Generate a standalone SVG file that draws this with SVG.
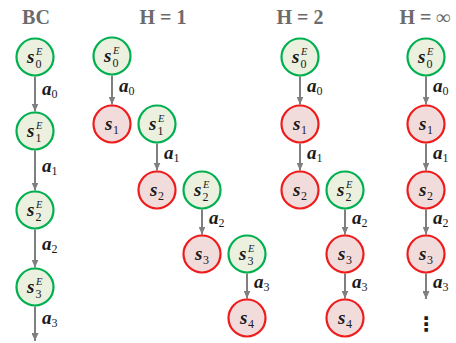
<svg xmlns="http://www.w3.org/2000/svg" width="456" height="343" viewBox="0 0 456 343">
<defs>
<marker id="ah" markerUnits="userSpaceOnUse" markerWidth="8" markerHeight="7" refX="8" refY="3.5" orient="auto">
<path d="M0,0 L8,3.5 L0,7 z" fill="#7f7f7f"/>
</marker>
<style>
.g circle{fill:#ebf1de;stroke:#00b050;stroke-width:2.2}
.r circle{fill:#f2dcdb;stroke:#ee1c1c;stroke-width:2.2}
text{font-family:'Liberation Serif','Times New Roman','DejaVu Serif',serif}
.s{font-weight:bold;font-style:italic;font-size:19px;fill:#1a1a1a}
.sub{font-weight:normal;font-style:normal;font-size:12px;fill:#1a1a1a}
.sup{font-weight:normal;font-style:italic;font-size:10.5px;fill:#1a1a1a}
.e{stroke:#7f7f7f;stroke-width:2;fill:none;marker-end:url(#ah)}
.t{font-weight:bold;font-size:20px;fill:#6b6b6b;text-anchor:middle}
.dots{font-family:'DejaVu Sans',sans-serif;font-weight:bold;font-size:20px;fill:#1a1a1a;text-anchor:middle}
</style>
</defs>
<rect width="456" height="343" fill="#ffffff"/>
<g id="titles">
<text class="t" x="36" y="24">BC</text>
<text class="t" x="163" y="24">H = 1</text>
<text class="t" x="300" y="24">H = 2</text>
<text class="t" x="425" y="24">H = ∞</text>
</g>
<g id="connectors">
<line class="e" x1="35" y1="76.5" x2="35" y2="111.5"/>
<line class="e" x1="35" y1="150.5" x2="35" y2="190.5"/>
<line class="e" x1="35" y1="229.5" x2="35" y2="267.5"/>
<line class="e" x1="35" y1="306.5" x2="35" y2="341"/>
<line class="e" x1="112" y1="75.5" x2="112" y2="104.5"/>
<line class="e" x1="157" y1="143.5" x2="157" y2="170.5"/>
<line class="e" x1="202" y1="209.5" x2="202" y2="234.5"/>
<line class="e" x1="247" y1="273.5" x2="247" y2="298.5"/>
<line class="e" x1="300" y1="76.5" x2="300" y2="104.5"/>
<line class="e" x1="300" y1="143.5" x2="300" y2="170.5"/>
<line class="e" x1="345" y1="209.5" x2="345" y2="234.5"/>
<line class="e" x1="345" y1="273.5" x2="345" y2="298.5"/>
<line class="e" x1="426" y1="76.5" x2="426" y2="104.5"/>
<line class="e" x1="426" y1="143.5" x2="426" y2="170.5"/>
<line class="e" x1="426" y1="209.5" x2="426" y2="234.5"/>
<line class="e" x1="426" y1="273.5" x2="426" y2="299"/>
<text class="s" x="42" y="95">a<tspan class="sub" dy="3">0</tspan></text>
<text class="s" x="42" y="172">a<tspan class="sub" dy="3">1</tspan></text>
<text class="s" x="42" y="250">a<tspan class="sub" dy="3">2</tspan></text>
<text class="s" x="42" y="324">a<tspan class="sub" dy="3">3</tspan></text>
<text class="s" x="119" y="92">a<tspan class="sub" dy="3">0</tspan></text>
<text class="s" x="164" y="159">a<tspan class="sub" dy="3">1</tspan></text>
<text class="s" x="209" y="224">a<tspan class="sub" dy="3">2</tspan></text>
<text class="s" x="254" y="288">a<tspan class="sub" dy="3">3</tspan></text>
<text class="s" x="307" y="92">a<tspan class="sub" dy="3">0</tspan></text>
<text class="s" x="307" y="159">a<tspan class="sub" dy="3">1</tspan></text>
<text class="s" x="352" y="224">a<tspan class="sub" dy="3">2</tspan></text>
<text class="s" x="352" y="288">a<tspan class="sub" dy="3">3</tspan></text>
<text class="s" x="433" y="92">a<tspan class="sub" dy="3">0</tspan></text>
<text class="s" x="433" y="159">a<tspan class="sub" dy="3">1</tspan></text>
<text class="s" x="433" y="224">a<tspan class="sub" dy="3">2</tspan></text>
<text class="s" x="433" y="288">a<tspan class="sub" dy="3">3</tspan></text>
</g>
<g id="bc-s0E" class="g" transform="translate(35,57)"><circle r="18.5"/><text class="s" x="-8" y="6">s</text><text class="sub" x="0.5" y="11">0</text><text class="sup" x="1" y="-2.5">E</text></g>
<g id="bc-s1E" class="g" transform="translate(35,131)"><circle r="18.5"/><text class="s" x="-8" y="6">s</text><text class="sub" x="0.5" y="11">1</text><text class="sup" x="1" y="-2.5">E</text></g>
<g id="bc-s2E" class="g" transform="translate(35,210)"><circle r="18.5"/><text class="s" x="-8" y="6">s</text><text class="sub" x="0.5" y="11">2</text><text class="sup" x="1" y="-2.5">E</text></g>
<g id="bc-s3E" class="g" transform="translate(35,287)"><circle r="18.5"/><text class="s" x="-8" y="6">s</text><text class="sub" x="0.5" y="11">3</text><text class="sup" x="1" y="-2.5">E</text></g>

<g id="h1-s0E" class="g" transform="translate(112,56)"><circle r="18.5"/><text class="s" x="-8" y="6">s</text><text class="sub" x="0.5" y="11">0</text><text class="sup" x="1" y="-2.5">E</text></g>
<g id="h1-s1" class="r" transform="translate(112,124)"><circle r="18.5"/><text class="s" x="-7" y="6">s</text><text class="sub" x="1" y="10">1</text></g>
<g id="h1-s1E" class="g" transform="translate(157,124)"><circle r="18.5"/><text class="s" x="-8" y="6">s</text><text class="sub" x="0.5" y="11">1</text><text class="sup" x="1" y="-2.5">E</text></g>
<g id="h1-s2" class="r" transform="translate(157,190)"><circle r="18.5"/><text class="s" x="-7" y="6">s</text><text class="sub" x="1" y="10">2</text></g>
<g id="h1-s2E" class="g" transform="translate(202,190)"><circle r="18.5"/><text class="s" x="-8" y="6">s</text><text class="sub" x="0.5" y="11">2</text><text class="sup" x="1" y="-2.5">E</text></g>
<g id="h1-s3" class="r" transform="translate(202,254)"><circle r="18.5"/><text class="s" x="-7" y="6">s</text><text class="sub" x="1" y="10">3</text></g>
<g id="h1-s3E" class="g" transform="translate(247,254)"><circle r="18.5"/><text class="s" x="-8" y="6">s</text><text class="sub" x="0.5" y="11">3</text><text class="sup" x="1" y="-2.5">E</text></g>
<g id="h1-s4" class="r" transform="translate(247,318)"><circle r="18.5"/><text class="s" x="-7" y="6">s</text><text class="sub" x="1" y="10">4</text></g>

<g id="h2-s0E" class="g" transform="translate(300,57)"><circle r="18.5"/><text class="s" x="-8" y="6">s</text><text class="sub" x="0.5" y="11">0</text><text class="sup" x="1" y="-2.5">E</text></g>
<g id="h2-s1" class="r" transform="translate(300,124)"><circle r="18.5"/><text class="s" x="-7" y="6">s</text><text class="sub" x="1" y="10">1</text></g>
<g id="h2-s2" class="r" transform="translate(300,190)"><circle r="18.5"/><text class="s" x="-7" y="6">s</text><text class="sub" x="1" y="10">2</text></g>
<g id="h2-s2E" class="g" transform="translate(345,190)"><circle r="18.5"/><text class="s" x="-8" y="6">s</text><text class="sub" x="0.5" y="11">2</text><text class="sup" x="1" y="-2.5">E</text></g>
<g id="h2-s3" class="r" transform="translate(345,254)"><circle r="18.5"/><text class="s" x="-7" y="6">s</text><text class="sub" x="1" y="10">3</text></g>
<g id="h2-s4" class="r" transform="translate(345,318)"><circle r="18.5"/><text class="s" x="-7" y="6">s</text><text class="sub" x="1" y="10">4</text></g>

<g id="hinf-s0E" class="g" transform="translate(426,57)"><circle r="18.5"/><text class="s" x="-8" y="6">s</text><text class="sub" x="0.5" y="11">0</text><text class="sup" x="1" y="-2.5">E</text></g>
<g id="hinf-s1" class="r" transform="translate(426,124)"><circle r="18.5"/><text class="s" x="-7" y="6">s</text><text class="sub" x="1" y="10">1</text></g>
<g id="hinf-s2" class="r" transform="translate(426,190)"><circle r="18.5"/><text class="s" x="-7" y="6">s</text><text class="sub" x="1" y="10">2</text></g>
<g id="hinf-s3" class="r" transform="translate(426,254)"><circle r="18.5"/><text class="s" x="-7" y="6">s</text><text class="sub" x="1" y="10">3</text></g>
<g id="hinf-dots"><text class="dots" x="426" y="331">⋮</text></g>
</svg>
